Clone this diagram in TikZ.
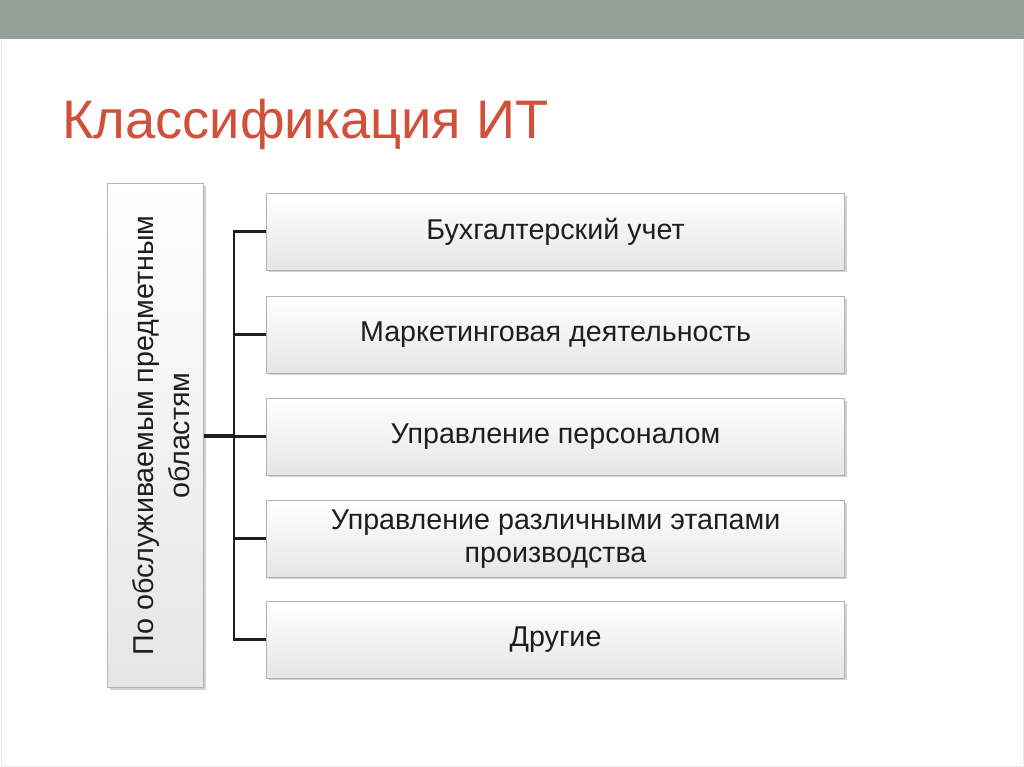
\documentclass[tikz,border=0pt]{standalone}
\usepackage{fontspec}
\setmainfont{Liberation Sans}
\usetikzlibrary{shadows}
\definecolor{band}{HTML}{92A198}
\definecolor{titlec}{HTML}{D0503A}
\definecolor{txt}{HTML}{1E1E1E}
\tikzset{
  x=0.75pt, y=-0.75pt,
  itembox/.style={draw=gray!60, line width=0.8pt, left color=white, right color=gray!20,
    shading angle=0, drop shadow={shadow xshift=1.5pt, shadow yshift=-1.5pt, opacity=0.35},
    font=\fontsize{21.5}{25}\selectfont, text=txt, align=center, inner sep=0pt},
  leftbox/.style={draw=gray!60, line width=0.8pt, top color=white, bottom color=gray!20,
    drop shadow={shadow xshift=1.5pt, shadow yshift=-1.5pt, opacity=0.35}},
  conn/.style={draw=txt, line width=2.2pt},
}
\begin{document}
\begin{tikzpicture}
\useasboundingbox (0,0) rectangle (1024,767);
\fill[white] (0,0) rectangle (1024,767);
\fill[band] (0,0) rectangle (1024,39);
\draw[gray!15, line width=0.6pt] (1,39) -- (1,766) -- (1023,766) -- (1023,39);
\node[anchor=base west, text=titlec, font=\fontsize{40.7}{48}\selectfont, inner sep=0pt] (title) at (62,138) {Классификация ИТ};
% left box
\node[leftbox, minimum width=72pt, minimum height=378pt, anchor=north west, inner sep=0pt] (L) at (107,183) {};
\node[rotate=90, text=txt, align=center, font=\fontsize{21.5}{27}\selectfont] (Lt) at ([xshift=4pt]L.center) {По обслуживаемым предметным\\областям};
% right boxes
\foreach \i/\y/\t in {1/193/{Бухгалтерский учет},2/296/{Маркетинговая деятельность},3/398/{Управление персоналом},4/500/{Управление различными этапами\\производства},5/601/{Другие}}{
  \node[itembox, minimum width=433.5pt, minimum height=57.5pt, anchor=north west] (b\i) at (266,\y) {\t};
}
\coordinate (j) at (234,436);
\draw[conn, line width=3pt] (L.east |- j) -- (j);
\draw[conn] (b1.west) -| (j |- b1.west) -- (j |- b5.west) -- (b5.west);
\foreach \i in {2,3,4}{ \draw[conn] (j |- b\i.west) -- (b\i.west); }
\end{tikzpicture}
\end{document}
